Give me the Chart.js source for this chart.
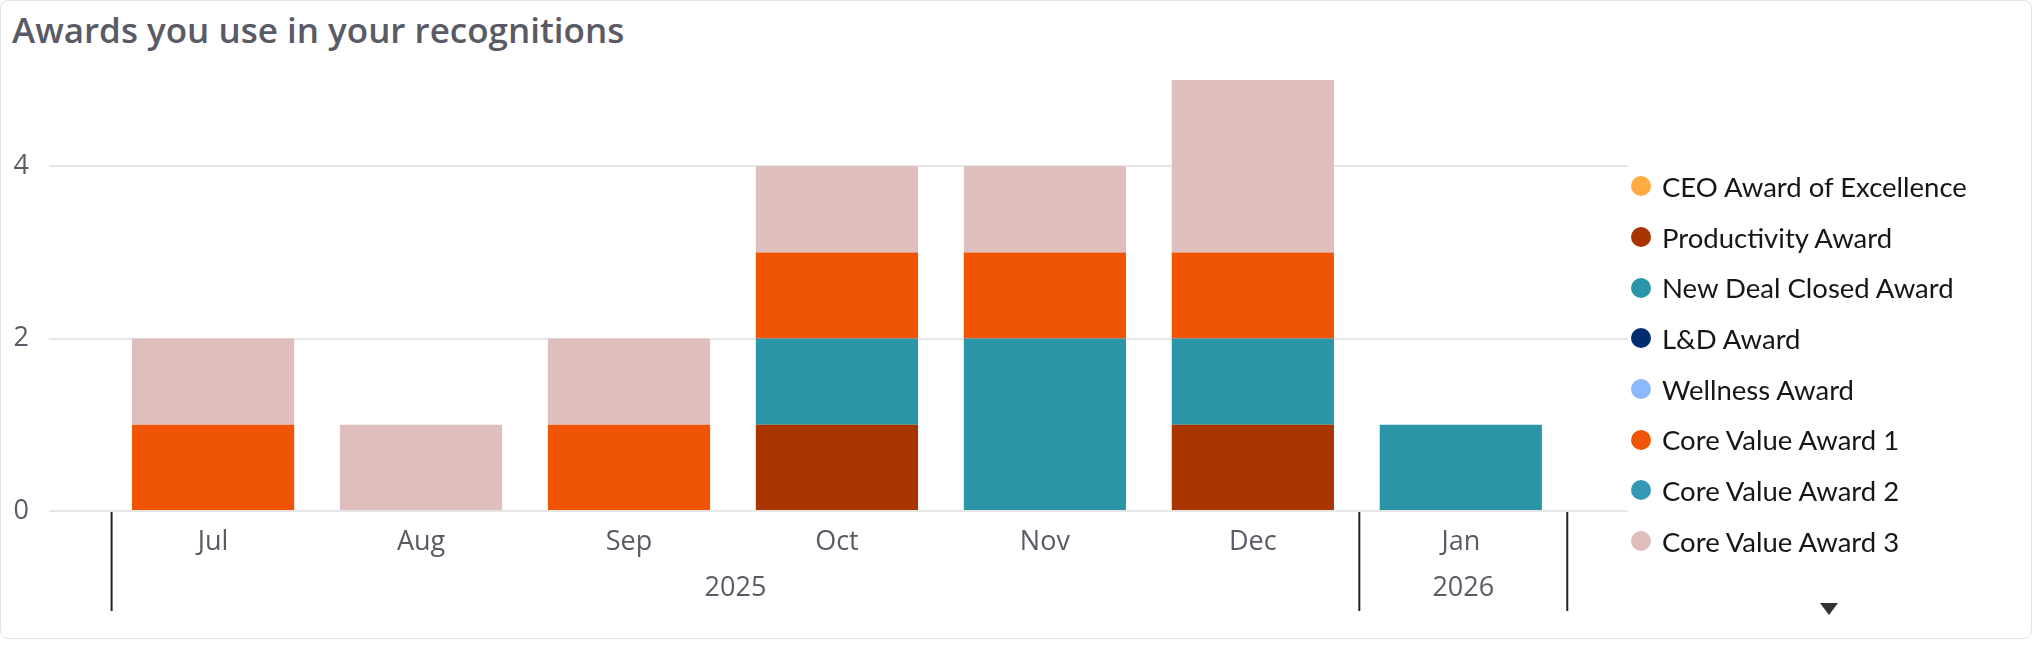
<!DOCTYPE html>
<html lang="en">
<head>
    <meta charset="UTF-8">
    <title>Awards you use in your recognitions</title>
    <script src="https://cdn.jsdelivr.net/npm/chart.js@4.4.1/dist/chart.umd.min.js"></script>
<style>
    html, body {
        margin: 0;
        padding: 0;
        background: #ffffff;
    }
    .card {
        position: absolute;
        left: 0;
        top: 0;
        width: 2030px;
        height: 637px;
        border: 1px solid #e3e3e3;
        border-radius: 8px;
        overflow: hidden;
    }
    .title {
        position: absolute;
        left: 12px;
        top: 6px;
        font-family: "Open Sans", sans-serif;
        font-weight: 600;
        font-size: 35px;
        color: #5a5a66;
        white-space: nowrap;
    }
    #chartBox {
        position: absolute;
        left: 0;
        top: 0;
        width: 2034px;
        height: 650px;
    }
    .legend {
        position: absolute;
        left: 1631px;
        top: 161px;
        margin: 0;
        padding: 0;
        list-style: none;
        font-family: Lato, sans-serif;
        font-size: 27.5px;
        color: #161616;
    }
    .legend li {
        height: 50.7px;
        display: flex;
        align-items: center;
        white-space: nowrap;
    }
    .legend .dot {
        width: 20px;
        height: 20px;
        border-radius: 50%;
        margin-right: 11px;
        flex: none;
    }
    .more {
        position: absolute;
        left: 1820px;
        top: 603px;
        width: 0;
        height: 0;
        border-left: 9px solid transparent;
        border-right: 9px solid transparent;
        border-top: 12px solid #333333;
    }
</style>
</head>
<body>
    <div class="card"></div>
    <div class="title">Awards you use in your recognitions</div>
    <div id="chartBox"><canvas id="awardsChart" width="2034" height="650"></canvas></div>
    <ul class="legend" id="legend"></ul>
    <div class="more"></div>

<script>
    // months on the x axis and the year each one falls in
    var months = ['Jul', 'Aug', 'Sep', 'Oct', 'Nov', 'Dec', 'Jan'];
    var monthYears = ['2025', '2025', '2025', '2025', '2025', '2025', '2026'];
    var yTicks = [0, 2, 4];

    var awardNames = [
        'CEO Award of Excellence',
        'Productivity Award',
        'New Deal Closed Award',
        'L&D Award',
        'Wellness Award',
        'Core Value Award 1',
        'Core Value Award 2',
        'Core Value Award 3'
    ];
    var awardColors = ['#ffab40', '#a83400', '#2b95a8', '#002d72', '#8cb8ff', '#f05506', '#3499b7', '#dfbfbe'];

    // counts per month, one list per award
    var ceoAward      = [0, 0, 0, 0, 0, 0, 0];
    var productivity  = [0, 0, 0, 1, 0, 1, 0];
    var newDealClosed = [0, 0, 0, 1, 2, 1, 1];
    var ldAward       = [0, 0, 0, 0, 0, 0, 0];
    var wellness      = [0, 0, 0, 0, 0, 0, 0];
    var coreValue1    = [1, 0, 1, 1, 1, 1, 0];
    var coreValue2    = [0, 0, 0, 0, 0, 0, 0];
    var coreValue3    = [1, 1, 1, 1, 1, 2, 0];

    var awardCounts = [ceoAward, productivity, newDealClosed, ldAward, wellness, coreValue1, coreValue2, coreValue3];

    var tickFont = { family: '"Open Sans", sans-serif', size: 27 };
    var tickColor = '#5a5a66';

    var datasets = awardNames.map(function(name, i) {
        return {
            label: name,
            data: awardCounts[i].map(function(v, m) { return { x: m, y: v }; }),
            backgroundColor: awardColors[i],
            borderWidth: 0,
            barPercentage: 0.78,
            categoryPercentage: 1
        };
    });

    // year row under the months, with the black dividers
    var yearRow = {
        id: 'yearRow',
        afterDraw: function(chart) {
            var ctx = chart.ctx;
            var xs = chart.scales.x;
            var bottom = chart.chartArea.bottom;
            var groups = [];
            monthYears.forEach(function(y, i) {
                var last = groups[groups.length - 1];
                if (last && last.year === y) last.end = i;
                else groups.push({ year: y, start: i, end: i });
            });
            ctx.save();
            ctx.strokeStyle = '#222222';
            ctx.lineWidth = 2;
            ctx.fillStyle = tickColor;
            ctx.font = tickFont.size + 'px ' + tickFont.family;
            ctx.textAlign = 'center';
            ctx.textBaseline = 'middle';
            groups.forEach(function(g, k) {
                // dividers sit a touch right of the bar gaps, as in the original
                var x0 = xs.getPixelForValue(g.start - 0.5) + 2.5;
                var x1 = xs.getPixelForValue(g.end + 0.5) + 2.5;
                ctx.beginPath();
                if (k === 0) {
                    ctx.moveTo(x0, bottom + 1);
                    ctx.lineTo(x0, bottom + 100);
                }
                ctx.moveTo(x1, bottom + 1);
                ctx.lineTo(x1, bottom + 100);
                ctx.stroke();
                ctx.fillText(g.year, (x0 + x1) / 2, bottom + 77);
            });
            ctx.restore();
        }
    };

    var ctx = document.getElementById('awardsChart').getContext('2d');
    var awardsChart = new Chart(ctx, {
        type: 'bar',
        data: { datasets: datasets },
        plugins: [yearRow],
        options: {
            responsive: false,
            animation: false,
            layout: { padding: { left: 0, right: 406, top: 80, bottom: 0 } },
            plugins: {
                legend: { display: false },
                tooltip: { enabled: false }
            },
            scales: {
                x: {
                    type: 'linear',
                    stacked: true,
                    offset: false,
                    min: -0.789,
                    max: 6.804,
                    grid: { display: false, offset: false },
                    border: { display: false },
                    afterBuildTicks: function(s) {
                        s.ticks = months.map(function(m, i) { return { value: i }; });
                    },
                    afterFit: function(s) { s.height = 139; },
                    ticks: {
                        autoSkip: false,
                        maxRotation: 0,
                        padding: 7,
                        font: tickFont,
                        color: tickColor,
                        callback: function(v) { return months[v]; }
                    }
                },
                y: {
                    stacked: true,
                    min: 0,
                    max: 5,
                    grid: { color: '#e6e6e6', lineWidth: 2, drawTicks: false },
                    border: { display: false },
                    afterBuildTicks: function(s) {
                        s.ticks = yTicks.map(function(v) { return { value: v }; });
                    },
                    afterFit: function(s) { s.width = 49; },
                    ticks: {
                        padding: 20,
                        font: tickFont,
                        color: tickColor
                    }
                }
            }
        }
    });

    // html legend built from the same names and colours
    var legend = document.getElementById('legend');
    awardNames.forEach(function(name, i) {
        var li = document.createElement('li');
        var dot = document.createElement('span');
        dot.className = 'dot';
        dot.style.background = awardColors[i];
        li.appendChild(dot);
        li.appendChild(document.createTextNode(name));
        legend.appendChild(li);
    });
</script>
</body>
</html>
